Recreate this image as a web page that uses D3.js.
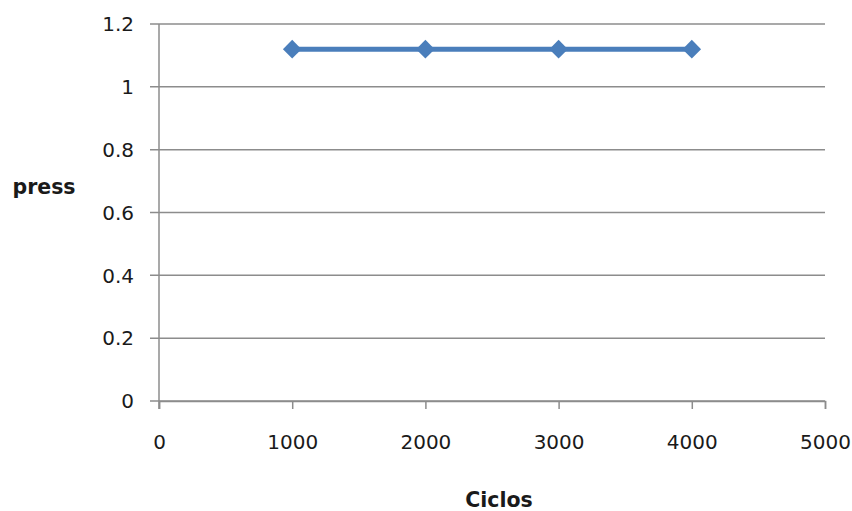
<!DOCTYPE html>
<html>
<head>
<meta charset="utf-8">
<script src="https://cdn.jsdelivr.net/npm/d3@7"></script>
<style>
  html, body { margin: 0; padding: 0; background: #fff; }
  svg { display: block; }
  text { font-family: "DejaVu Sans", Verdana, sans-serif; fill: #1a1a1a; }
</style>
</head>
<body>
<svg id="chart" width="852" height="511"></svg>
<script>
// Press readings per cycle count
const ciclos = [1000, 2000, 3000, 4000];
const press = [1.12, 1.12, 1.12, 1.12];
const xTicks = [0, 1000, 2000, 3000, 4000, 5000];
const yTicks = [0, 0.2, 0.4, 0.6, 0.8, 1, 1.2];
const xTitle = "Ciclos";
const yTitle = "press";

const svg = d3.select("#chart");
const plotLeft = 159, plotRight = 825, plotTop = 24, plotBottom = 401;

const x = d3.scaleLinear().domain([0, 5000]).range([plotLeft, plotRight]);
const y = d3.scaleLinear().domain([0, 1.2]).range([plotBottom, plotTop]);

const gridColor = "#8c8c8c";

// Horizontal gridlines with short tick stubs left of the axis
svg.append("g").selectAll("line")
  .data(yTicks)
  .join("line")
  .attr("x1", plotLeft - 9).attr("x2", plotRight)
  .attr("y1", d => y(d)).attr("y2", d => y(d))
  .attr("stroke", gridColor).attr("stroke-width", 1.5);

// Vertical axis line
svg.append("line")
  .attr("x1", plotLeft).attr("x2", plotLeft)
  .attr("y1", plotTop).attr("y2", plotBottom + 8)
  .attr("stroke", gridColor).attr("stroke-width", 1.5);

// Bottom axis with downward ticks
const xAxis = d3.axisBottom(x).tickValues(xTicks).tickSize(8).tickPadding(26)
  .tickFormat(d3.format("d"));
const gx = svg.append("g").attr("transform", `translate(0,${plotBottom})`).call(xAxis);
gx.select(".domain").attr("stroke", gridColor).attr("stroke-width", 1.5);
gx.selectAll(".tick line").attr("stroke", gridColor).attr("stroke-width", 1.5);
gx.selectAll(".tick text")
  .style("font-family", "'DejaVu Sans', Verdana, sans-serif")
  .style("font-size", "20px").attr("fill", "#1a1a1a");

// Left tick labels
svg.append("g").selectAll("text")
  .data(yTicks)
  .join("text")
  .attr("x", plotLeft - 25)
  .attr("y", d => y(d))
  .attr("dy", "0.36em")
  .attr("text-anchor", "end")
  .style("font-size", "20px")
  .text(d => d3.format("~g")(d));

// Axis titles
svg.append("text")
  .attr("x", 499).attr("y", 507)
  .attr("text-anchor", "middle")
  .style("font-size", "20.5px").style("font-weight", "bold")
  .text(xTitle);

svg.append("text")
  .attr("x", 44).attr("y", 194)
  .attr("text-anchor", "middle")
  .style("font-size", "20.5px").style("font-weight", "bold")
  .text(yTitle);

// Series line and diamond markers
const pts = ciclos.map((c, i) => ({ c, v: press[i] }));
const blue = "#4a7ebb";

svg.append("path")
  .datum(pts)
  .attr("fill", "none")
  .attr("stroke", blue)
  .attr("stroke-width", 5)
  .attr("d", d3.line().x(d => x(d.c)).y(d => y(d.v)));

svg.append("g").selectAll("path")
  .data(pts)
  .join("path")
  .attr("transform", d => `translate(${x(d.c)},${y(d.v)})`)
  .attr("d", d3.symbol().type(d3.symbolDiamond2).size(220))
  .attr("fill", blue);
</script>
</body>
</html>
